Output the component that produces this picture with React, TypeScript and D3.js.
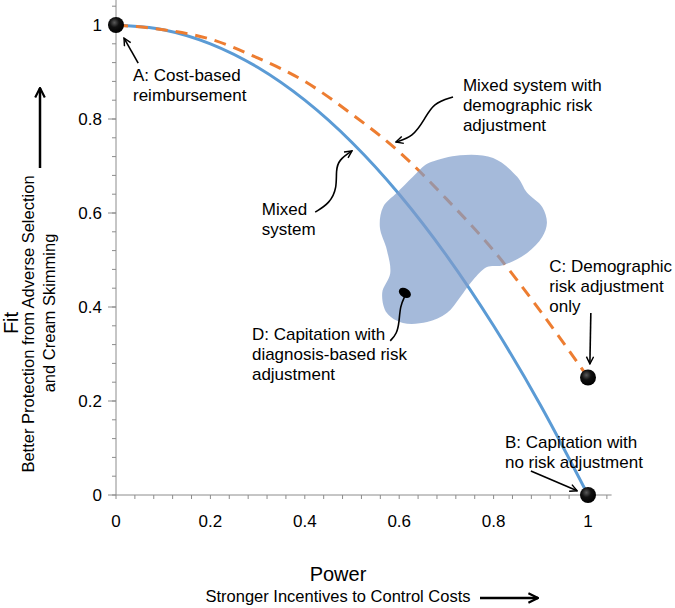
import React, { useRef, useEffect } from 'react';
import * as d3 from 'd3';

// power values along both curves
const powerPts = [0, 0.1, 0.2, 0.3, 0.4, 0.5, 0.6, 0.7, 0.8, 0.9, 1];
const mixedFit = [1, 0.99, 0.96, 0.91, 0.84, 0.75, 0.64, 0.51, 0.36, 0.19, 0];
const demoFit = [1, 0.99, 0.97, 0.93, 0.88, 0.81, 0.73, 0.63, 0.52, 0.39, 0.25];

const xTicks = [0, 0.2, 0.4, 0.6, 0.8, 1];
const yTicks = [0, 0.2, 0.4, 0.6, 0.8, 1];

// the shaded region of diagnosis-based systems, [power, fit]
const blob: [number, number][] = [
  [0.669, 0.709], [0.729, 0.723], [0.799, 0.717], [0.85, 0.677], [0.871, 0.643],
  [0.903, 0.613], [0.913, 0.579], [0.903, 0.549], [0.871, 0.515], [0.82, 0.489],
  [0.786, 0.485], [0.756, 0.457], [0.729, 0.421], [0.701, 0.387], [0.659, 0.368],
  [0.608, 0.366], [0.574, 0.387], [0.564, 0.43], [0.581, 0.472], [0.574, 0.521],
  [0.559, 0.57], [0.566, 0.613], [0.595, 0.643], [0.629, 0.677], [0.655, 0.702],
];

const points = [
  { name: 'A', x: 0, y: 1 },
  { name: 'C', x: 1, y: 0.25 },
  { name: 'B', x: 1, y: 0 },
];
const pointD = { x: 0.612, y: 0.43 };

const notes = [
  { lines: ['A: Cost-based', 'reimbursement'], x: 0.036, y: 0.88,
    arrow: [[0.047, 0.919], [0.017, 0.972]], head: true },
  { lines: ['Mixed system with', 'demographic risk', 'adjustment'], x: 0.735, y: 0.86,
    arrow: [[0.714, 0.847], [0.672, 0.834], [0.653, 0.798], [0.629, 0.762], [0.593, 0.751]], head: true },
  { lines: ['Mixed', 'system'], x: 0.309, y: 0.595,
    arrow: [[0.422, 0.602], [0.453, 0.621], [0.468, 0.653], [0.466, 0.691], [0.472, 0.713], [0.5, 0.732]], head: true },
  { lines: ['C: Demographic', 'risk adjustment', 'only'], x: 0.918, y: 0.475,
    arrow: [[1.006, 0.387], [1.004, 0.279]], head: true },
  { lines: ['D: Capitation with', 'diagnosis-based risk', 'adjustment'], x: 0.288, y: 0.33,
    arrow: [[0.612, 0.423], [0.602, 0.402], [0.6, 0.368], [0.595, 0.343], [0.581, 0.328]], head: false },
  { lines: ['B: Capitation with', 'no risk adjustment'], x: 0.824, y: 0.1,
    arrow: [[0.879, 0.051], [0.977, 0.009]], head: true },
];

export default function App() {
  const ref = useRef<SVGSVGElement>(null);

  useEffect(() => {
    const svg = d3.select(ref.current);
    svg.selectAll('*').remove();

    const x = d3.scaleLinear().domain([0, 1]).range([116, 588]);
    const y = d3.scaleLinear().domain([0, 1]).range([495, 25]);
    const font = '"Liberation Sans", Arial, Helvetica, sans-serif';
    const axisCol = '#8c8c8c';

    const defs = svg.append('defs');
    const grad = defs.append('radialGradient').attr('id', 'ball').attr('cx', '40%').attr('cy', '35%').attr('r', '65%');
    grad.append('stop').attr('offset', '0%').attr('stop-color', '#5a5a5a');
    grad.append('stop').attr('offset', '45%').attr('stop-color', '#111');
    grad.append('stop').attr('offset', '100%').attr('stop-color', '#000');
    defs.append('marker').attr('id', 'head').attr('viewBox', '0 0 10 10')
      .attr('refX', 9).attr('refY', 5).attr('markerWidth', 9).attr('markerHeight', 9)
      .attr('markerUnits', 'userSpaceOnUse').attr('orient', 'auto')
      .append('path').attr('d', 'M1,1 L9,5 L1,9').attr('fill', 'none')
      .attr('stroke', '#000').attr('stroke-width', 1.6);
    defs.append('marker').attr('id', 'bighead').attr('viewBox', '0 0 10 10')
      .attr('refX', 9).attr('refY', 5).attr('markerWidth', 12).attr('markerHeight', 12)
      .attr('markerUnits', 'userSpaceOnUse').attr('orient', 'auto')
      .append('path').attr('d', 'M1,1 L9,5 L1,9').attr('fill', 'none')
      .attr('stroke', '#000').attr('stroke-width', 1.8);

    // axes
    const minor = d3.range(0, 1.05, 0.04);
    const ax = svg.append('g');
    ax.append('line').attr('x1', x(0)).attr('x2', x(1.05)).attr('y1', y(0)).attr('y2', y(0))
      .attr('stroke', axisCol);
    ax.append('line').attr('x1', x(0)).attr('x2', x(0)).attr('y1', y(0)).attr('y2', y(1.055))
      .attr('stroke', axisCol);
    ax.selectAll('.xm').data(minor).enter().append('line')
      .attr('x1', d => x(d)).attr('x2', d => x(d)).attr('y1', y(0)).attr('y2', y(0) + 4)
      .attr('stroke', axisCol);
    ax.selectAll('.ym').data(minor).enter().append('line')
      .attr('x1', x(0) - 4).attr('x2', x(0)).attr('y1', d => y(d)).attr('y2', d => y(d))
      .attr('stroke', axisCol);
    ax.selectAll('.yM').data(yTicks).enter().append('line')
      .attr('x1', x(0) - 8).attr('x2', x(0)).attr('y1', d => y(d)).attr('y2', d => y(d))
      .attr('stroke', axisCol);
    ax.selectAll('.xl').data(xTicks).enter().append('text')
      .attr('x', d => x(d)).attr('y', y(0) + 32).attr('text-anchor', 'middle')
      .style('font-family', font).style('font-size', '17px').text(d => d3.format('')(d));
    ax.selectAll('.yl').data(yTicks).enter().append('text')
      .attr('x', x(0) - 14).attr('y', d => y(d) + 6).attr('text-anchor', 'end')
      .style('font-family', font).style('font-size', '17px').text(d => d3.format('')(d));

    // curves
    const line = d3.line<number>().x((d, i) => x(powerPts[i])).y(d => y(d)).curve(d3.curveMonotoneX);
    svg.append('path').attr('d', line(mixedFit)).attr('fill', 'none')
      .attr('stroke', '#5b9bd5').attr('stroke-width', 3);
    svg.append('path').attr('d', line(demoFit)).attr('fill', 'none')
      .attr('stroke', '#ed7d31').attr('stroke-width', 3).attr('stroke-dasharray', '12,8');

    // shaded region
    svg.append('path')
      .attr('d', d3.line<[number, number]>().x(d => x(d[0])).y(d => y(d[1])).curve(d3.curveCatmullRomClosed)(blob))
      .attr('fill', '#7f9dca').attr('opacity', 0.7);

    // points
    svg.selectAll('.pt').data(points).enter().append('circle')
      .attr('cx', d => x(d.x)).attr('cy', d => y(d.y)).attr('r', 8).attr('fill', 'url(#ball)');
    svg.append('ellipse').attr('cx', x(pointD.x)).attr('cy', y(pointD.y)).attr('rx', 6.5).attr('ry', 4.5)
      .attr('transform', `rotate(30,${x(pointD.x)},${y(pointD.y)})`).attr('fill', '#000');

    // annotations
    const arrowLine = d3.line<number[]>().x(d => x(d[0])).y(d => y(d[1])).curve(d3.curveBasis);
    notes.forEach(n => {
      const t = svg.append('text').attr('x', x(n.x)).attr('y', y(n.y))
        .style('font-family', font).style('font-size', '17px');
      n.lines.forEach((l, i) => t.append('tspan').attr('x', x(n.x)).attr('dy', i === 0 ? 0 : 20).text(l));
      svg.append('path').attr('d', arrowLine(n.arrow)).attr('fill', 'none')
        .attr('stroke', '#000').attr('stroke-width', 1.6)
        .attr('marker-end', n.head ? 'url(#head)' : null);
    });

    // axis titles
    svg.append('text').attr('transform', 'translate(18,323) rotate(-90)').attr('text-anchor', 'middle')
      .style('font-family', font).style('font-size', '20px').text('Fit');
    svg.append('text').attr('transform', 'translate(34,324) rotate(-90)').attr('text-anchor', 'middle')
      .style('font-family', font).style('font-size', '16.5px').text('Better Protection from Adverse Selection');
    svg.append('text').attr('transform', 'translate(55,313) rotate(-90)').attr('text-anchor', 'middle')
      .style('font-family', font).style('font-size', '16.5px').text('and Cream Skimming');
    svg.append('line').attr('x1', 40).attr('x2', 40).attr('y1', 168).attr('y2', 88)
      .attr('stroke', '#000').attr('stroke-width', 2.5).attr('marker-end', 'url(#bighead)');

    svg.append('text').attr('x', 338).attr('y', 581).attr('text-anchor', 'middle')
      .style('font-family', font).style('font-size', '20px').text('Power');
    svg.append('text').attr('x', 338).attr('y', 602).attr('text-anchor', 'middle')
      .style('font-family', font).style('font-size', '16.5px').text('Stronger Incentives to Control Costs');
    svg.append('line').attr('x1', 480).attr('x2', 538).attr('y1', 598).attr('y2', 598)
      .attr('stroke', '#000').attr('stroke-width', 2.5).attr('marker-end', 'url(#bighead)');
  }, []);

  return (
    <svg ref={ref} width={675} height={608}
      style={{ position: 'absolute', left: 0, top: 0, background: '#fff' }} />
  );
}
